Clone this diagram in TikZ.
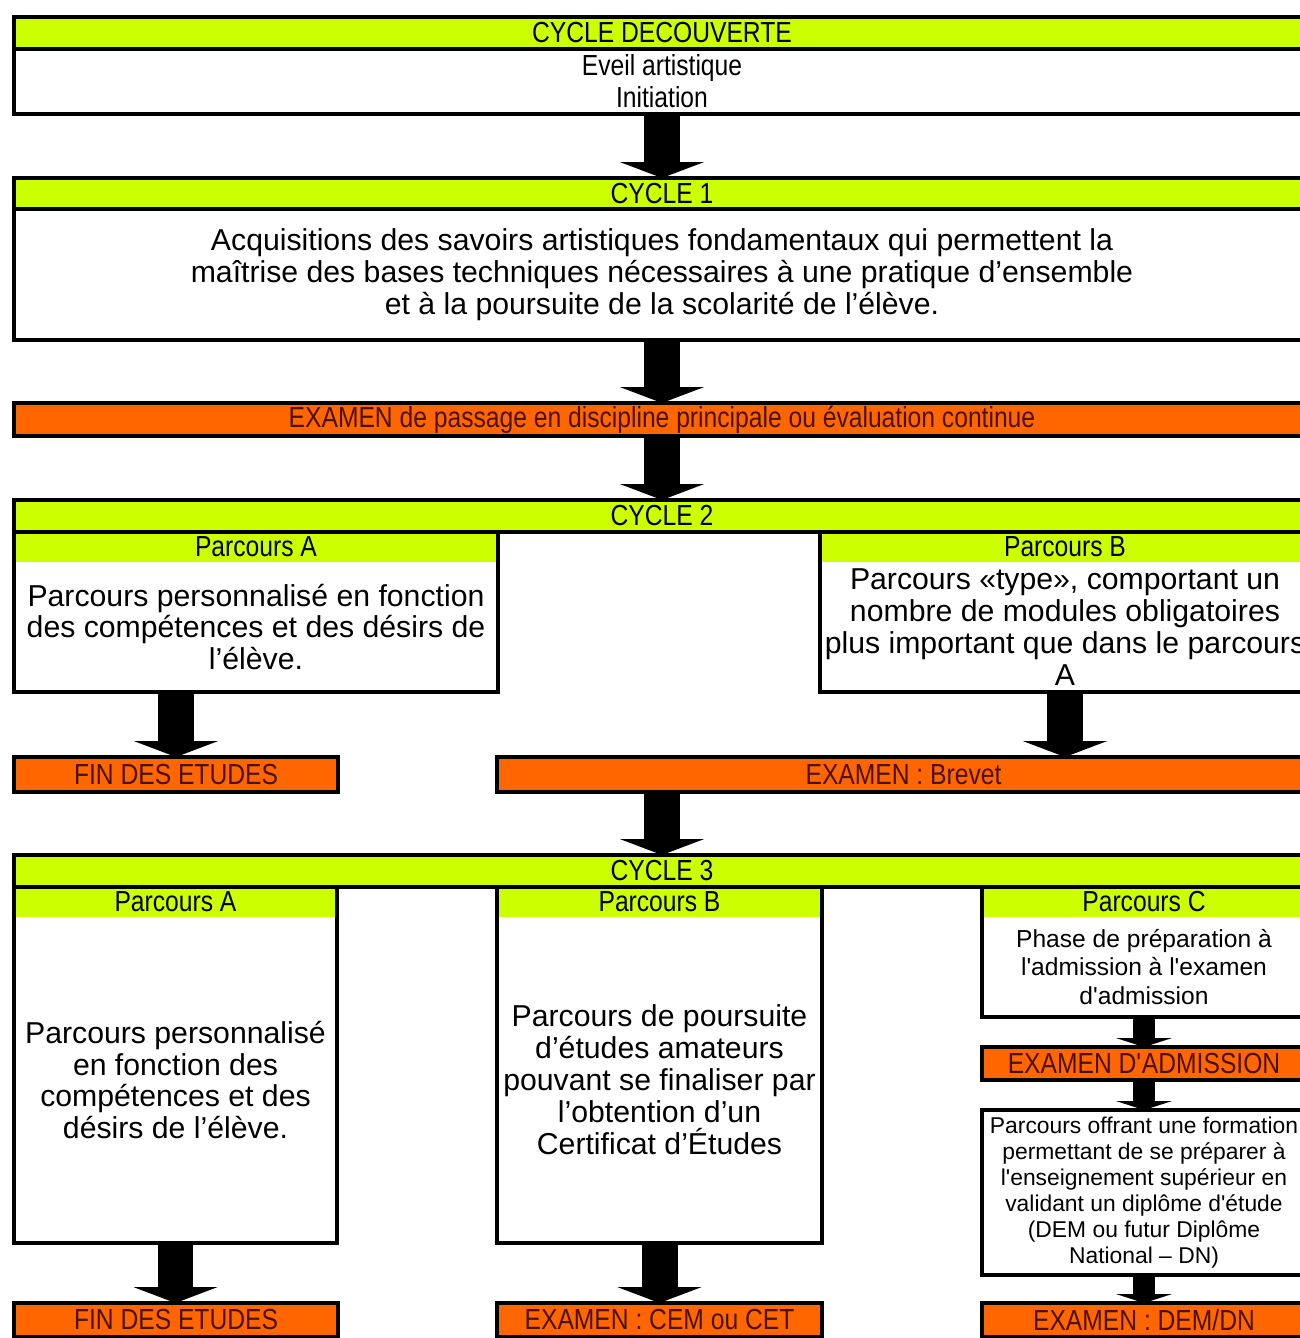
\documentclass[tikz,border=0pt]{standalone}
\usepackage{fontspec}
\setmainfont{Liberation Sans}
\newfontfamily\narrowfont[FakeStretch=0.85]{Liberation Sans}
\usepackage{tikz}
\usetikzlibrary{arrows.meta,positioning,calc}
\definecolor{cyclegreen}{HTML}{CCFF00}
\definecolor{examorange}{HTML}{FF6600}
\definecolor{examtext}{HTML}{4A1000}
\newcommand{\pu}{0.02cm}
\newcommand{\bigtxt}{\fontsize{17.2}{18.2}\selectfont}
\newcommand{\narrowtxt}{\narrowfont\fontsize{16.5}{18.2}\selectfont}

\begin{document}
\begin{tikzpicture}[x=0.02cm,y=-0.02cm,
    frame/.style={draw=black,line width=2.3pt},
    cyclehead/.style={frame,fill=cyclegreen,anchor=north west,inner sep=0pt,outer sep=0pt,minimum width=1296*\pu,font=\narrowtxt},
    cyclebody/.style={frame,fill=white,anchor=north west,inner sep=0pt,outer sep=0pt,minimum width=1296*\pu,align=center},
    exambar/.style={frame,fill=examorange,anchor=north west,inner sep=0pt,outer sep=0pt,text=examtext,font=\narrowtxt},
    parhead/.style={fill=cyclegreen,anchor=north west,inner sep=0pt,outer sep=0pt,minimum height=30*\pu,font=\narrowtxt},
    parbody/.style={fill=white,anchor=north west,inner sep=0pt,outer sep=0pt,align=center,font=\bigtxt},
    bigarrow/.style={line width=0.72cm,-{Triangle[width=1.68cm 0,length=0.32cm 0]}},
    smallarrow/.style={line width=0.44cm,-{Triangle[width=1.12cm 0,length=0.18cm 0]}}]
    \clip (0,0) rectangle (1300,1338);
    % Cycle decouverte
    \node[cyclehead,minimum height=32*\pu] (cyc0head) at (14,17) {CYCLE DECOUVERTE};
    \node[cyclebody,minimum height=65*\pu,font=\narrowtxt] (cyc0body) at (14,49) {Eveil artistique\\Initiation};
    % Cycle 1
    \node[cyclehead,minimum height=31*\pu] (cyc1head) at (14,178) {CYCLE 1};
    \node[cyclebody,minimum height=131*\pu,font=\bigtxt] (cyc1body) at (14,209) {Acquisitions des savoirs artistiques fondamentaux qui permettent la\\ma\^{\i}trise des bases techniques nécessaires à une pratique d’ensemble\\et à la poursuite de la scolarité de l’élève.};
    \node[exambar,minimum width=1296*\pu,minimum height=33*\pu] (exam1) at (14,403) {EXAMEN de passage en discipline principale ou évaluation continue};
    % Cycle 2
    \node[cyclehead,minimum height=32*\pu] (cyc2head) at (14,500) {CYCLE 2};
    \node[parhead,minimum width=484*\pu] (c2ahead) at (14,532) {Parcours A};
    \node[parbody,minimum width=484*\pu,minimum height=130*\pu] (c2abody) at (14,562) {Parcours personnalisé en fonction\\des compétences et des désirs de\\l’élève.};
    \node[parhead,minimum width=490*\pu] (c2bhead) at (820,532) {Parcours B};
    \node[parbody,minimum width=490*\pu,minimum height=130*\pu] (c2bbody) at (820,562) {Parcours «type», comportant un\\nombre de modules obligatoires\\plus important que dans le parcours\\A};
    \draw[frame] (c2ahead.north west) rectangle (c2abody.south east);
    \draw[frame] (c2bhead.north west) rectangle (c2bbody.south east);
    \node[exambar,minimum width=324*\pu,minimum height=35*\pu] (fin1) at (14,757) {FIN DES ETUDES};
    \node[exambar,minimum width=813*\pu,minimum height=35*\pu] (brevet) at (497,757) {EXAMEN : Brevet};
    % Cycle 3
    \node[cyclehead,minimum height=32*\pu] (cyc3head) at (14,855) {CYCLE 3};
    \node[parhead,minimum width=323*\pu] (c3ahead) at (14,887) {Parcours A};
    \node[parbody,minimum width=323*\pu,minimum height=326*\pu] (c3abody) at (14,917) {Parcours personnalisé\\en fonction des\\compétences et des\\désirs de l’élève.};
    \node[parhead,minimum width=325*\pu] (c3bhead) at (497,887) {Parcours B};
    \node[parbody,minimum width=325*\pu,minimum height=326*\pu] (c3bbody) at (497,917) {Parcours de poursuite\\d’études amateurs\\pouvant se finaliser par\\l’obtention d’un\\Certificat d’Études};
    \node[parhead,minimum width=324*\pu] (c3chead) at (982,887) {Parcours C};
    \node[parbody,minimum width=324*\pu,minimum height=100*\pu,font=\fontsize{14}{16.3}\selectfont] (c3cbody) at (982,917) {Phase de préparation à\\l\textquotesingle admission à l\textquotesingle examen\\d\textquotesingle admission};
    \draw[frame] (c3ahead.north west) rectangle (c3abody.south east);
    \draw[frame] (c3bhead.north west) rectangle (c3bbody.south east);
    \draw[frame] (c3chead.north west) rectangle (c3cbody.south east);
    \node[exambar,minimum width=324*\pu,minimum height=33*\pu] (adm) at (982,1047) {EXAMEN D\textquotesingle ADMISSION};
    \node[cyclebody,minimum width=324*\pu,minimum height=165*\pu,font=\fontsize{13}{14.8}\selectfont] (offrant) at (982,1110) {Parcours offrant une formation\\permettant de se préparer à\\l\textquotesingle enseignement supérieur en\\validant un diplôme d\textquotesingle étude\\(DEM ou futur Diplôme\\National -- DN)};
    \node[exambar,minimum width=324*\pu,minimum height=34*\pu] (fin2) at (14,1303) {FIN DES ETUDES};
    \node[exambar,minimum width=325*\pu,minimum height=34*\pu] (cem) at (497,1303) {EXAMEN : CEM ou CET};
    \node[exambar,minimum width=324*\pu,minimum height=34*\pu] (dem) at (982,1303) {EXAMEN : DEM/DN};
    % arrows
    \draw[bigarrow] (cyc0body.south) -- (cyc1head.north);
    \draw[bigarrow] (cyc1body.south) -- (exam1.north);
    \draw[bigarrow] (exam1.south) -- (cyc2head.north);
    \draw[bigarrow] (c2abody.south -| fin1.north) -- (fin1.north);
    \draw[bigarrow] (c2bbody.south) -- (c2bbody.south |- brevet.north);
    \draw[bigarrow] (brevet.south -| cyc3head.north) -- (cyc3head.north);
    \draw[bigarrow] (c3abody.south) -- (c3abody.south |- fin2.north);
    \draw[bigarrow] (c3bbody.south) -- (cem.north);
    \draw[smallarrow] (c3cbody.south) -- (adm.north);
    \draw[smallarrow] (adm.south) -- (offrant.north);
    \draw[smallarrow] (offrant.south) -- (dem.north);
\end{tikzpicture}
\end{document}
